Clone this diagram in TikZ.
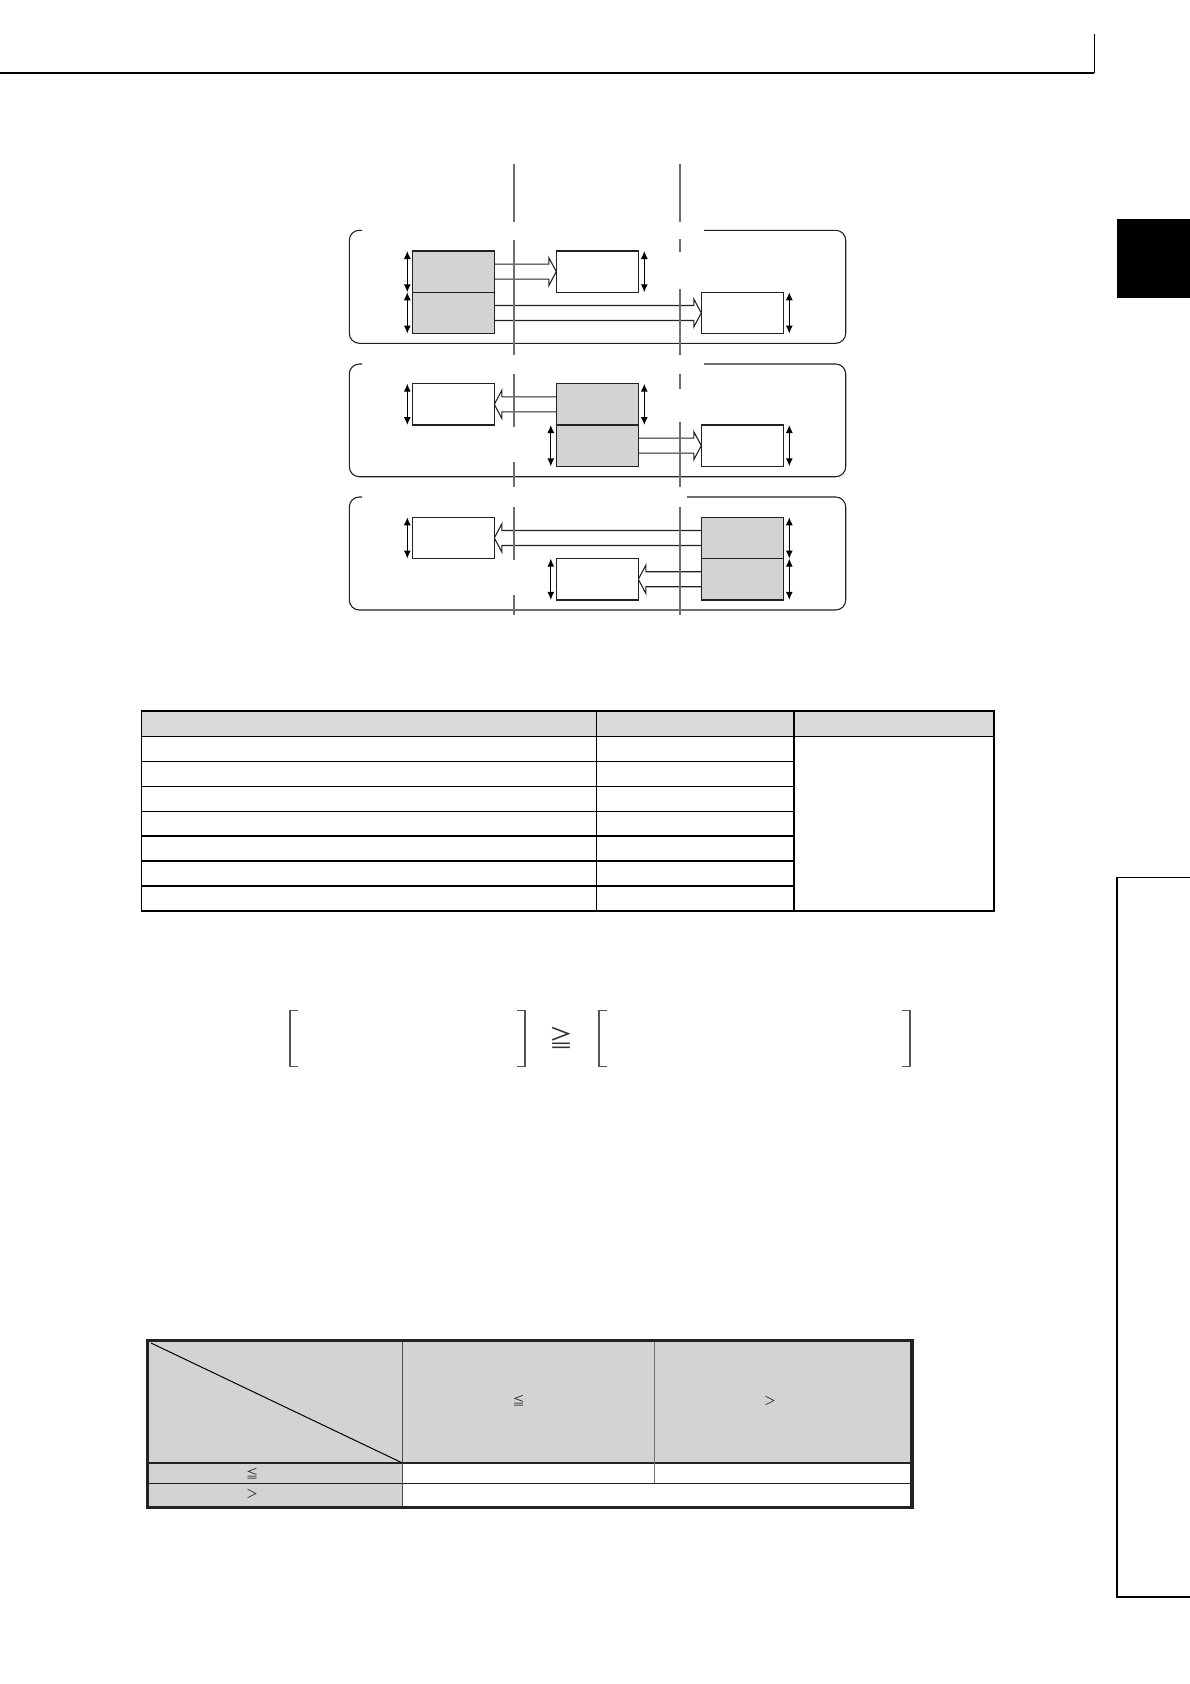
\documentclass[tikz,border=0pt]{standalone}
\usepackage{fontspec}
\newfontfamily\cjk{Noto Sans CJK JP}
\usetikzlibrary{arrows.meta,calc}
\pgfdeclarelayer{bg}
\pgfsetlayers{bg,main}
\definecolor{boxgray}{HTML}{D3D3D3}
\definecolor{hdrgray}{HTML}{D9D9D9}
\definecolor{linegray}{HTML}{6E6E6E}
\definecolor{brkgray}{HTML}{555555}
\definecolor{darkline}{HTML}{222222}
\newcommand\blkarrow[2]{%
  \begin{pgfonlayer}{bg}
  \path[blockarr] let \p1=(#1), \p2=(#2), \n1={sign(\x2-\x1)*7.5} in
    (\x1,\y1+7.5pt) -- (\x2-\n1*1pt,\y1+7.5pt) -- (\x2-\n1*1pt,\y1+14pt) -- (\x2,\y1)
    -- (\x2-\n1*1pt,\y1-14pt) -- (\x2-\n1*1pt,\y1-7.5pt) -- (\x1,\y1-7.5pt);
  \end{pgfonlayer}}
\begin{document}
\begin{tikzpicture}[x=1pt,y=-1pt,
  box/.style={draw=darkline, line width=1.2pt, minimum width=82pt, minimum height=41.3pt,
    inner sep=0pt, outer sep=0pt, anchor=north west},
  gbox/.style={box, fill=boxgray},
  wbox/.style={box, fill=white},
  dblarr/.style={draw=black, line width=1.1pt, {Latex[length=8pt,width=7pt]}-{Latex[length=8pt,width=7pt]}},
  blockarr/.style={draw=darkline, line width=1.1pt, fill=white, line join=miter},
  container/.style={draw=darkline, line width=1.1pt, rounded corners=10pt},
  guide/.style={draw=linegray, line width=1.2pt},
  tblline/.style={draw=black, line width=1.6pt},
  brk/.style={draw=brkgray, line width=1.5pt},
  sym/.style={font=\cjk\fontsize{12}{12}\selectfont, inner sep=0pt, text=black!85}
]
\useasboundingbox (0,0) rectangle (1190,1684);

% page furniture
\draw[line width=1.5pt] (0,73) -- (1094,73);
\draw[line width=1pt] (1094,34) -- (1094,73);
\fill[black] (1117,218.5) rectangle (1190,297.5);
\draw[line width=1.8pt] (1190,877.5) -- (1117,877.5) -- (1117,1597) -- (1190,1597);

% ---------- diagram boxes ----------
% panel 1
\node[gbox] (A1) at (412.3,251) {};
\node[gbox] (A2) at (412.3,292.3) {};
\node[wbox] (B1) at (556.3,251) {};
\node[wbox] (C1) at (701.3,292.3) {};
% panel 2
\node[wbox] (D)  at (412.3,383.7) {};
\node[gbox] (E1) at (556.3,383.7) {};
\node[gbox] (E2) at (556.3,425.0) {};
\node[wbox] (F)  at (701.3,425.0) {};
% panel 3
\node[wbox] (G)  at (412.3,517.3) {};
\node[gbox] (H1) at (701.3,517.3) {};
\node[gbox] (H2) at (701.3,558.6) {};
\node[wbox] (I)  at (556.3,558.6) {};

% height arrows
\draw[dblarr] ([xshift=-5pt]A1.north west) -- ([xshift=-5pt]A1.south west);
\draw[dblarr] ([xshift=-5pt]A2.north west) -- ([xshift=-5pt]A2.south west);
\draw[dblarr] ([xshift=6pt]B1.north east) -- ([xshift=6pt]B1.south east);
\draw[dblarr] ([xshift=6pt]C1.north east) -- ([xshift=6pt]C1.south east);
\draw[dblarr] ([xshift=-5pt]D.north west) -- ([xshift=-5pt]D.south west);
\draw[dblarr] ([xshift=6pt]E1.north east) -- ([xshift=6pt]E1.south east);
\draw[dblarr] ([xshift=-5.5pt]E2.north west) -- ([xshift=-5.5pt]E2.south west);
\draw[dblarr] ([xshift=6pt]F.north east) -- ([xshift=6pt]F.south east);
\draw[dblarr] ([xshift=-5pt]G.north west) -- ([xshift=-5pt]G.south west);
\draw[dblarr] ([xshift=6pt]H1.north east) -- ([xshift=6pt]H1.south east);
\draw[dblarr] ([xshift=6pt]H2.north east) -- ([xshift=6pt]H2.south east);
\draw[dblarr] ([xshift=-5.5pt]I.north west) -- ([xshift=-5.5pt]I.south west);

% panels (background)
\begin{pgfonlayer}{bg}
\draw[container] (362,230.3) -- (349.3,230.3) -- (349.3,343.3) -- (845.7,343.3) -- (845.7,230.3) -- (704,230.3);
\draw[container] (362,364) -- (349.3,364) -- (349.3,476.7) -- (845.7,476.7) -- (845.7,364) -- (704,364);
\draw[container] (362,497) -- (349.3,497) -- (349.3,610) -- (845.7,610) -- (845.7,497) -- (687,497);
\end{pgfonlayer}

% block arrows
\blkarrow{A1.east}{B1.west}
\blkarrow{A2.east}{C1.west}
\blkarrow{E1.west}{D.east}
\blkarrow{E2.east}{F.west}
\blkarrow{H1.west}{G.east}
\blkarrow{H2.west}{I.east}

% guide lines
\begin{pgfonlayer}{bg}
\foreach \a/\b in {164/222,240/355,374/427,462/487,507/560,595/615}
  \draw[guide] (514,\a) -- (514,\b);
\foreach \a/\b in {164/222,239/252,289/355,374/389,422/487,507/615}
  \draw[guide] (680,\a) -- (680,\b);
\end{pgfonlayer}

% ---------- table 1 ----------
\fill[hdrgray] (141.5,711) rectangle (994,736.5);
\foreach \k in {1,...,6}
  \draw[tblline] (141.5,{736.5+\k*24.93}) -- (794,{736.5+\k*24.93});
\draw[tblline] (141.5,736.5) -- (994,736.5);
\draw[tblline] (596.5,711) -- (596.5,911);
\draw[tblline] (794,711) -- (794,911);
\draw[tblline] (141.5,711) rectangle (994,911);

% ---------- condition ----------
\draw[brk] (298,1010.5) -- (290,1010.5) -- (290,1066.5) -- (298,1066.5);
\draw[brk] (517,1010.5) -- (525,1010.5) -- (525,1066.5) -- (517,1066.5);
\node[font=\cjk\fontsize{24}{24}\selectfont, inner sep=0pt, text=black!80] (geq) at (561,1038) {≧};
\draw[brk] (607,1010.5) -- (599,1010.5) -- (599,1066.5) -- (607,1066.5);
\draw[brk] (902,1010.5) -- (910,1010.5) -- (910,1066.5) -- (902,1066.5);

% ---------- table 2 ----------
\fill[boxgray] (147.5,1340.4) rectangle (912,1463);
\fill[boxgray] (147.5,1463) rectangle (402.5,1507.5);
\draw[draw=darkline, line width=1.3pt] (147.5,1463) -- (912,1463);
\draw[draw=darkline, line width=1.3pt] (147.5,1483.3) -- (912,1483.3);
\draw[draw=black!70, line width=1.2pt] (402.5,1340.4) -- (402.5,1507.5);
\draw[draw=black!55, line width=1.2pt] (654.5,1340.4) -- (654.5,1483.3);
\draw[draw=black, line width=1pt] (151,1343) -- (402.5,1463);
\draw[draw=darkline, line width=3.3pt] (147.5,1340.4) rectangle (912,1507.5);
\node[sym] (h2) at (518.5,1401) {≦};
\node[sym] (h3) at (770,1401) {＞};
\node[sym] (r1) at (252,1474) {≦};
\node[sym] (r2) at (252,1494) {＞};
\end{tikzpicture}
\end{document}
